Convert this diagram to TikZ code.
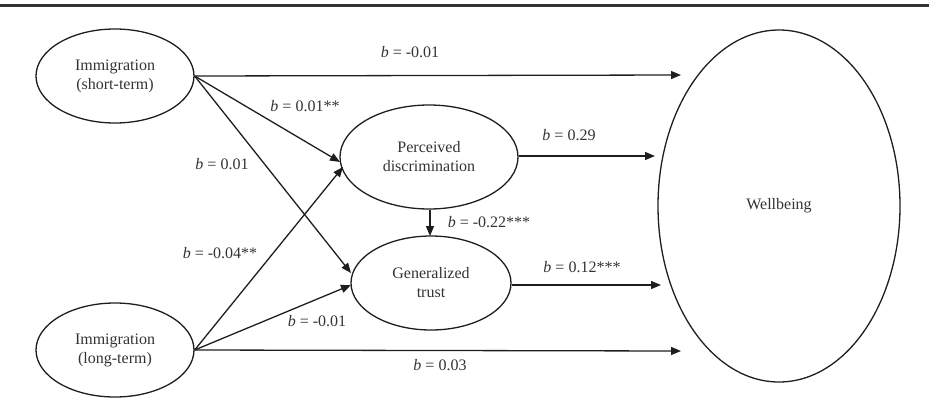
\documentclass[tikz,border=0pt]{standalone}
\usepackage{fontspec}
\setmainfont{Liberation Serif}
\usetikzlibrary{shapes.geometric,arrows.meta}
\definecolor{ink}{HTML}{1E1E1E}
\definecolor{txt}{HTML}{333333}
\begin{document}
\begin{tikzpicture}[x=1pt,y=-1pt,
  latent/.style={ellipse,draw=ink,line width=1.3pt,inner sep=0pt,align=center,
    font=\fontsize{16}{19}\selectfont,text=txt},
  effect/.style={draw=ink,line width=1.3pt,-{Triangle[length=10pt,width=8pt]}},
  coef/.style={font=\fontsize{16}{19}\selectfont,text=txt,inner sep=0pt}]
\useasboundingbox (0,0) rectangle (929,413);
\draw[line width=3pt,txt] (0,5.5) -- (929,5.5);

\node[latent,minimum width=158pt,minimum height=94pt] (st) at (115,76) {Immigration\\(short-term)};
\node[latent,minimum width=158pt,minimum height=94pt] (lt) at (115,350) {Immigration\\(long-term)};
\node[latent,minimum width=178pt,minimum height=104pt] (pd) at (429,157) {Perceived\\discrimination};
\node[latent,minimum width=160pt,minimum height=94pt] (gt) at (431,283) {Generalized\\trust};
\node[latent,minimum width=242pt,minimum height=352pt] (wb) at (779,206) {Wellbeing};

\coordinate (wb1) at (681,75);
\coordinate (wb2) at (655,156);
\coordinate (wb3) at (661,285);
\coordinate (wb4) at (681,351);
\coordinate (pdA) at (340,162);
\coordinate (pdB) at (343,167);
\coordinate (gtA) at (351,273);
\coordinate (gtB) at (351,285);

\draw[effect] (st.east) -- (wb1);
\draw[effect] (st.east) -- (pdA);
\draw[effect] (st.east) -- (gtA);
\draw[effect] (lt.east) -- (pdB);
\draw[effect] (lt.east) -- (gtB);
\draw[effect] (lt.east) -- (wb4);
\draw[effect] (pd.east |- wb2) -- (wb2);
\draw[effect] (gt.east |- wb3) -- (wb3);
\draw[effect] (pd.south -| 430,0) -- (430,236);

\node[coef] (c1) at (410,52) {\textit{b} = -0.01};
\node[coef] (c2) at (305,106) {\textit{b} = 0.01**};
\node[coef] (c3) at (222,164) {\textit{b} = 0.01};
\node[coef] (c4) at (220,253) {\textit{b} = -0.04**};
\node[coef] (c5) at (569,135) {\textit{b} = 0.29};
\node[coef] (c6) at (489,222) {\textit{b} = -0.22***};
\node[coef] (c7) at (582,267) {\textit{b} = 0.12***};
\node[coef] (c8) at (317,321) {\textit{b} = -0.01};
\node[coef] (c9) at (440,365) {\textit{b} = 0.03};
\end{tikzpicture}
\end{document}
